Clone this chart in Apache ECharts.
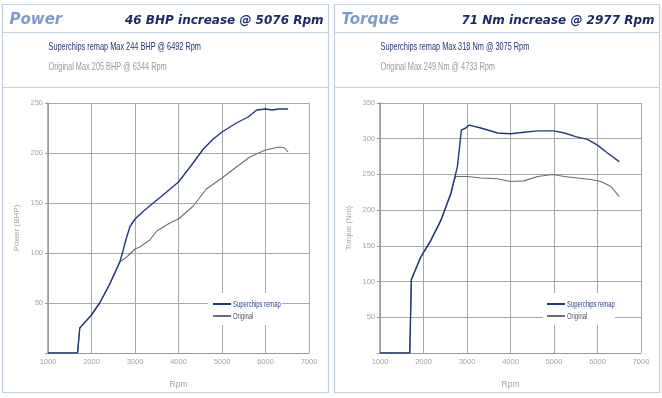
<!DOCTYPE html>
<html><head><meta charset="utf-8">
<script src="https://cdn.jsdelivr.net/npm/echarts@6/dist/echarts.min.js"></script>
<style>html,body{margin:0;padding:0;background:#fff}#c{width:662px;height:398px}</style>
</head><body><div id="c"></div>
<script>
// ---- Data ----
const rpmTicks = [1000, 2000, 3000, 4000, 5000, 6000, 7000];
const powerTicks = [0, 50, 100, 150, 200, 250];
const torqueTicks = [0, 50, 100, 150, 200, 250, 300, 350];

const powerRemapRpm = [1000,1680,1730,2000,2200,2420,2650,2730,2790,2880,3000,3200,3420,3700,4000,4300,4570,4800,5000,5330,5600,5800,6000,6150,6300,6520];
const powerRemapBhp = [0,0,25,38,51,69,91,103,113,126,134,142,150,160,171,188,204,214,221,230,236,243,244,243,244,244];
const powerOrigRpm  = [1000,1680,1730,2000,2200,2420,2650,2810,3000,3110,3340,3500,3800,4000,4340,4640,5000,5330,5640,6000,6200,6330,6440,6520];
const powerOrigBhp  = [0,0,25,38,51,69,91,96,104,106,113,122,130,134,147,164,175,186,196,203,205,206,205,201];

const torqueRemapRpm = [1000,1685,1720,1940,2170,2400,2630,2780,2870,2970,3050,3320,3700,4000,4310,4620,5000,5240,5500,5770,6000,6230,6500];
const torqueRemapNm  = [0,0,103,135,158,186,224,261,312,315,319,315,308,307,309,311,311,308,303,299,291,280,268];
const torqueOrigRpm  = [1000,1685,1720,1940,2170,2400,2630,2700,2740,3010,3320,3700,4000,4310,4620,4970,5240,5540,5850,6080,6310,6500];
const torqueOrigNm   = [0,0,102,134,157,185,222,240,247,247,245,244,240,241,247,250,247,245,243,240,233,219];

const seriesNames = ['Superchips remap', 'Original'];
const panelTitles = ['Power', 'Torque'];
const panelHeadlines = ['46 BHP increase @ 5076 Rpm', '71 Nm increase @ 2977 Rpm'];
const panelRemapNotes = ['Superchips remap Max 244 BHP @ 6492 Rpm', 'Superchips remap Max 318 Nm @ 3075 Rpm'];
const panelOrigNotes = ['Original Max 205 BHP @ 6344 Rpm', 'Original Max 249 Nm @ 4733 Rpm'];
const yNames = ['Power (BHP)', 'Torque (Nm)'];
const xName = 'Rpm';

const pairs = (xs, ys) => xs.map((x, i) => [x, ys[i]]);

const NAVY = '#233a7a', GREY = '#6e6e6e', BORDER = '#c3d0de', GRID = '#a8a8a8', LBL = '#a4a4a4';
const FONT = "'Liberation Sans',sans-serif";

function xAxis(gi) {
  return {
    gridIndex: gi, type: 'value', min: 1000, max: 7000, interval: 1000,
    name: xName, nameLocation: 'middle', nameGap: 27,
    nameTextStyle: { color: LBL, fontSize: 8.5, fontFamily: FONT },
    axisLine: { show: true, lineStyle: { color: '#999', width: 1 } },
    axisTick: { show: false },
    axisLabel: { color: LBL, fontSize: 7.5, fontFamily: FONT, margin: 5, formatter: v => String(v) },
    splitLine: { show: true, lineStyle: { color: GRID, width: 1 } }
  };
}
function yAxis(gi, max, name) {
  return {
    gridIndex: gi, type: 'value', min: 0, max: max, interval: 50,
    name: name, nameLocation: 'middle', nameGap: 27, nameRotate: 90,
    nameTextStyle: { color: LBL, fontSize: 8, fontFamily: FONT },
    axisLine: { show: true, lineStyle: { color: '#999', width: 1.5 } },
    axisTick: { show: true, length: 3, lineStyle: { color: '#999' } },
    axisLabel: { color: LBL, fontSize: 7.5, fontFamily: FONT, margin: 5,
      formatter: v => v === 0 ? '' : String(v) },
    splitLine: { show: true, lineStyle: { color: GRID, width: 1 } }
  };
}
function legend(left) {
  return {
    data: seriesNames, orient: 'vertical', left: left, top: 303,
    padding: 0, itemGap: 10, itemWidth: 18, itemHeight: 2, icon: 'rect', selectedMode: false,
    textStyle: { fontSize: 1, lineHeight: 1 },
    formatter: () => ''
  };
}
function lineSeries(name, xi, data, color, w) {
  return { name: name, type: 'line', xAxisIndex: xi, yAxisIndex: xi, data: data,
    showSymbol: false, symbol: 'none', lineStyle: { color: color, width: w }, itemStyle: { color: color },
    z: name === seriesNames[0] ? 3 : 2, animation: false };
}

const panels = [
  { x: 2.5, w: 326, box: 208, boxW: 74, icon: 213, txt: 233 },
  { x: 334.5, w: 325, box: 543, boxW: 72, icon: 547, txt: 567 }
];
const graphic = [];
panels.forEach((p, i) => {
  graphic.push({ type: 'rect', shape: { x: p.x, y: 4.5, width: p.w, height: 388 },
    style: { fill: '#fff', stroke: BORDER, lineWidth: 1.2 }, z: -10, silent: true });
  graphic.push({ type: 'line', shape: { x1: p.x, y1: 32.5, x2: p.x + p.w, y2: 32.5 },
    style: { stroke: BORDER, lineWidth: 1.2 }, z: -9, silent: true });
  graphic.push({ type: 'line', shape: { x1: p.x, y1: 87.5, x2: p.x + p.w, y2: 87.5 },
    style: { stroke: BORDER, lineWidth: 1.2 }, z: -9, silent: true });
  graphic.push({ type: 'text', x: p.x + 7, y: 20, silent: true,
    style: { text: panelTitles[i], fill: '#7e9ccb', font: "italic bold 15px 'DejaVu Sans'", verticalAlign: 'middle' } });
  graphic.push({ type: 'text', x: p.x + p.w - 5, y: 20.5, silent: true,
    style: { text: panelHeadlines[i], fill: '#1c2b68', font: "italic bold 12px 'DejaVu Sans'", align: 'right', verticalAlign: 'middle' } });
  graphic.push({ type: 'text', x: p.x + 46, y: 47, scaleX: 0.7, silent: true,
    style: { text: panelRemapNotes[i], fill: '#25336e', font: "10.5px " + FONT, verticalAlign: 'middle' } });
  graphic.push({ type: 'text', x: p.x + 46, y: 67, scaleX: 0.7, silent: true,
    style: { text: panelOrigNotes[i], fill: '#9a9a9a', font: "10.5px " + FONT, verticalAlign: 'middle' } });
  // legend backdrop and labels
  graphic.push({ type: 'rect', shape: { x: p.box, y: 293, width: p.boxW, height: 32 },
    style: { fill: '#fff' }, z: 1, silent: true });
  graphic.push({ type: 'text', x: p.txt, y: 304.5, scaleX: 0.62, z: 5, silent: true,
    style: { text: seriesNames[0], fill: '#2b3f86', font: "9.5px " + FONT, verticalAlign: 'middle' } });
  graphic.push({ type: 'text', x: p.txt, y: 316.5, scaleX: 0.62, z: 5, silent: true,
    style: { text: seriesNames[1], fill: '#555', font: "9.5px " + FONT, verticalAlign: 'middle' } });
});

const chart = echarts.init(document.getElementById('c'), null, { renderer: 'canvas' });
chart.setOption({
  backgroundColor: '#fff',
  animation: false,
  textStyle: { fontFamily: FONT },
  grid: [
    { left: 48, right: 353, top: 103, bottom: 45 },
    { left: 380, right: 21, top: 103, bottom: 45 }
  ],
  xAxis: [xAxis(0), xAxis(1)],
  yAxis: [yAxis(0, 250, yNames[0]), yAxis(1, 350, yNames[1])],
  legend: [legend(213), legend(547)],
  graphic: graphic,
  series: [
    lineSeries(seriesNames[1], 0, pairs(powerOrigRpm, powerOrigBhp), GREY, 1.1),
    lineSeries(seriesNames[0], 0, pairs(powerRemapRpm, powerRemapBhp), NAVY, 1.4),
    lineSeries(seriesNames[1], 1, pairs(torqueOrigRpm, torqueOrigNm), GREY, 1.1),
    lineSeries(seriesNames[0], 1, pairs(torqueRemapRpm, torqueRemapNm), NAVY, 1.4)
  ]
});
</script></body></html>
